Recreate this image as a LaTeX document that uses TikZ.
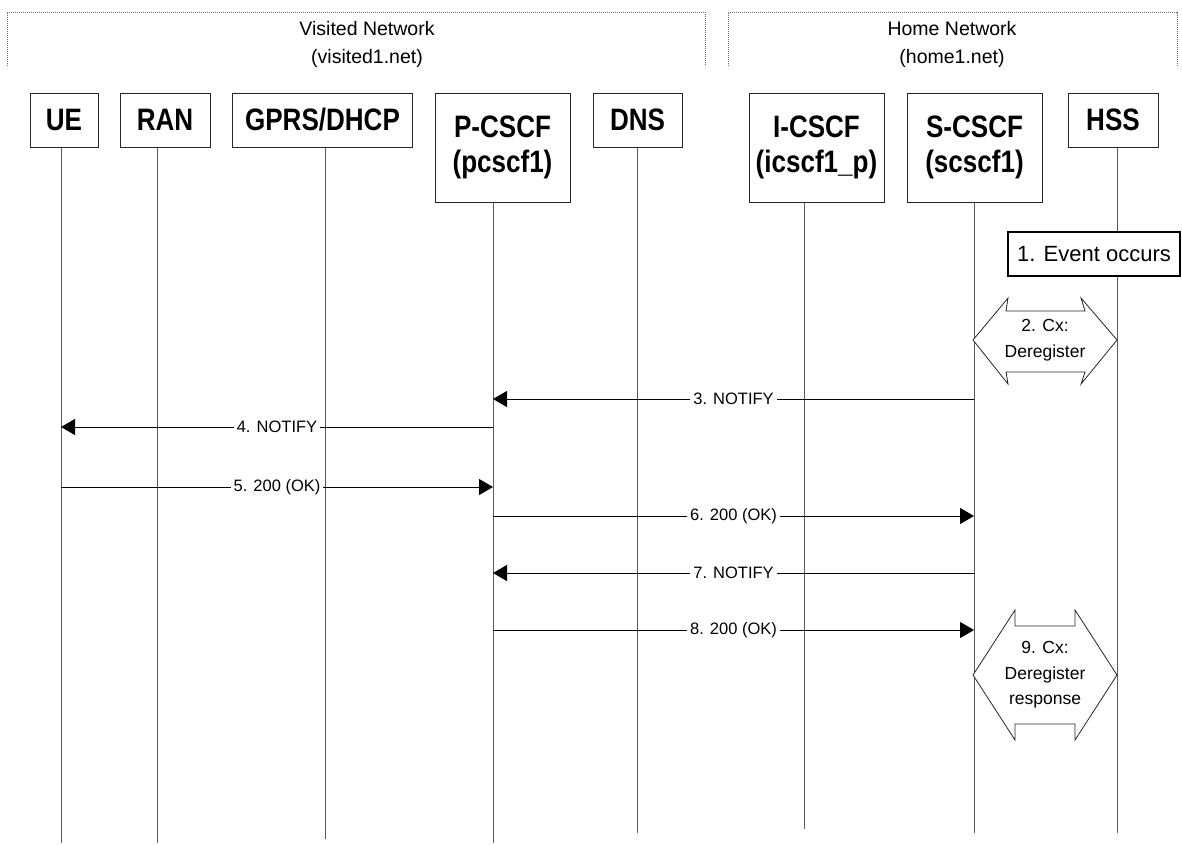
\documentclass[tikz,border=0pt]{standalone}
\usepackage{fontspec}
\setmainfont{Liberation Sans}
\newfontfamily\entityfont[FakeStretch=0.84]{Liberation Sans}
\usepackage{tikz}
\usetikzlibrary{arrows.meta,positioning,calc}
\definecolor{lifegray}{RGB}{90,90,90}
\definecolor{framegray}{RGB}{110,110,110}

\begin{document}
\begin{tikzpicture}[
  x=1pt,y=-1pt,
  entity/.style={rectangle,draw=black!85,fill=white,line width=1pt,inner sep=0pt,align=center,minimum height=54pt,font=\entityfont\bfseries\fontsize{31}{35}\selectfont},
  tallentity/.style={entity,minimum height=109pt},
  nettitle/.style={align=center,inner sep=0pt,font=\fontsize{19.5}{28}\selectfont},
  netframe/.style={draw=framegray,line width=.8pt,dash pattern=on 1.2pt off .8pt},
  life/.style={draw=lifegray,line width=1pt},
  msg/.style={-{Triangle[length=14pt,width=16pt]},draw=black,line width=1pt},
  msglabel/.style={fill=white,inner xsep=3pt,inner ysep=1pt,font=\fontsize{16.5}{18}\selectfont},
  cxarrow/.style={draw=black!85,fill=white,line width=.8pt},
  cxtext/.style={align=center,inner sep=0pt,font=\fontsize{17.5}{25.5}\selectfont},
  eventbox/.style={rectangle,draw=black,fill=white,line width=1.5pt,minimum width=172pt,minimum height=44pt,inner sep=0pt,font=\fontsize{22}{24}\selectfont}
]
\useasboundingbox (0,0) rectangle (1182,844);
% network frames
\draw[netframe] (7,66) -- (7,12) -- (705,12) -- (705,66);
\draw[netframe] (728,66) -- (728,12) -- (1177,12) -- (1177,66);
\node[nettitle] (visited) at (367,44) {Visited Network\\(visited1.net)};
\node[nettitle] (home) at (952,44) {Home Network\\(home1.net)};
% entities
\node[entity,minimum width=68pt] (ue) at (64,120) {UE};
\node[entity,minimum width=90pt] (ran) at (165,120) {RAN};
\node[entity,minimum width=180pt] (gprs) at (322.5,120) {GPRS/DHCP};
\node[tallentity,minimum width=135pt] (pcscf) at (502.5,147.5) {P-CSCF\\(pcscf1)};
\node[entity,minimum width=89pt] (dns) at (637.5,120) {DNS};
\node[tallentity,minimum width=135pt] (icscf) at (816.5,147.5) {I-CSCF\\(icscf1\_p)};
\node[tallentity,minimum width=135pt] (scscf) at (974.5,147.5) {S-CSCF\\(scscf1)};
\node[entity,minimum width=90pt] (hss) at (1113,120) {HSS};
% lifelines
\coordinate (ue-end) at (61,843);
\coordinate (ran-end) at (157,843);
\coordinate (gprs-end) at (325,839);
\coordinate (pcscf-end) at (493,843);
\coordinate (dns-end) at (637,833);
\coordinate (icscf-end) at (804,829);
\coordinate (scscf-end) at (974,833);
\coordinate (hss-end) at (1117,833);
\draw[life] (ue-end |- ue.south) -- (ue-end);
\draw[life] (ran-end |- ran.south) -- (ran-end);
\draw[life] (gprs-end |- gprs.south) -- (gprs-end);
\draw[life] (pcscf-end |- pcscf.south) -- (pcscf-end);
\draw[life] (dns-end |- dns.south) -- (dns-end);
\draw[life] (icscf-end |- icscf.south) -- (icscf-end);
\draw[life] (scscf-end |- scscf.south) -- (scscf-end);
\draw[life] (hss-end |- hss.south) -- (hss-end);
% 1. event
\node[eventbox] (event) at (1094,254) {1. Event occurs};
% 2. Cx
\draw[cxarrow] (973,340) -- (1008,298) -- (1006,311) -- (1085,311) -- (1081,298) -- (1117,340)
  -- (1081,384) -- (1085,372) -- (1006,372) -- (1008,384) -- cycle;
\node[cxtext] (cx2) at (1045,340) {2. Cx:\\Deregister};
% messages
\draw[msg] (scscf-end |- 0,399) -- node[msglabel] (m3) {3. NOTIFY} (pcscf-end |- 0,399);
\draw[msg] (pcscf-end |- 0,427) -- node[msglabel] (m4) {4. NOTIFY} (ue-end |- 0,427);
\draw[msg] (ue-end |- 0,487) -- node[msglabel] (m5) {5. 200 (OK)} (pcscf-end |- 0,487);
\draw[msg] (pcscf-end |- 0,516) -- node[msglabel] (m6) {6. 200 (OK)} (scscf-end |- 0,516);
\draw[msg] (scscf-end |- 0,573) -- node[msglabel] (m7) {7. NOTIFY} (pcscf-end |- 0,573);
\draw[msg] (pcscf-end |- 0,630) -- node[msglabel] (m8) {8. 200 (OK)} (scscf-end |- 0,630);
% 9. Cx
\draw[cxarrow] (973,675) -- (1015,610) -- (1015,626) -- (1075,626) -- (1075,610) -- (1117,675)
  -- (1075,740) -- (1075,724) -- (1015,724) -- (1015,740) -- cycle;
\node[cxtext] (cx9) at (1045,675) {9. Cx:\\Deregister\\response};
\end{tikzpicture}
\end{document}
